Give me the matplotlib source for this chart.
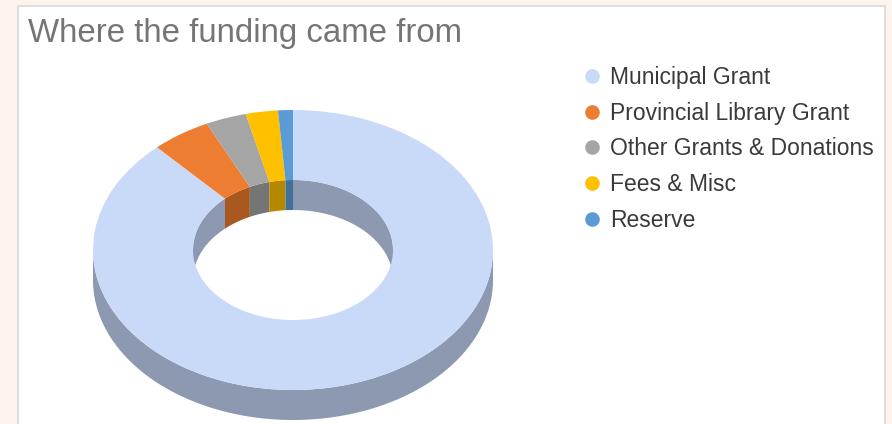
import numpy as np
import matplotlib.pyplot as plt
from matplotlib.lines import Line2D
from matplotlib.patches import Rectangle

plt.rcParams["font.family"] = ["Liberation Sans", "DejaVu Sans"]

labels = ["Municipal Grant", "Provincial Library Grant", "Other Grants & Donations", "Fees & Misc", "Reserve"]
shares = [88.1, 4.8, 3.3, 2.6, 1.2]
colors = ["#C9DAF8", "#ED7D31", "#A5A5A5", "#FFC000", "#5B9BD5"]
wall_colors = ["#8C99B0", "#A9591F", "#757575", "#B58800", "#41709A"]

W, H = 892, 424
fig = plt.figure(figsize=(W / 100, H / 100), dpi=100, facecolor="#FEF4EE")

# white card behind the chart
fig.patches.append(Rectangle((18 / W, -0.05), 867 / W, (H - 6) / H + 0.05, transform=fig.transFigure,
                             facecolor="white", edgecolor="#DEDEDE", linewidth=1.5, zorder=-1))

fig.text(28 / W, 1 - 42 / H, "Where the funding came from", fontsize=23.8, color="#757575")

# donut axes: x runs -1..1 over 400 px, y is squashed to 140 px per unit
ax = fig.add_axes([93 / W, 0, 400 / W, (H - 110) / H])
ax.pie(shares, colors=colors, startangle=90, counterclock=False, radius=1,
       wedgeprops=dict(width=0.5, linewidth=0))
ax.set_aspect("auto")
depth = 30 / 140
ax.set_xlim(-1, 1)
ax.set_ylim(1 - (H - 110) / 140, 1)
ax.axis("off")

# side walls, from the same slice angles as the pie
edges = 90 - np.cumsum([0] + shares) * 3.6
# inner wall only shows on the far half, outer wall on the near half
wall_spans = [(0.5, 0, 180), (0.5, -360, -180), (1.0, -180, 0)]
for i in range(len(shares)):
    for radius, start, stop in wall_spans:
        a0 = max(edges[i + 1], start)
        a1 = min(edges[i], stop)
        if a1 <= a0:
            continue
        t = np.radians(np.linspace(a0, a1, 200))
        x = radius * np.cos(t)
        y = radius * np.sin(t)
        ax.fill(np.r_[x, x[::-1]], np.r_[y, y[::-1] - depth], color=wall_colors[i],
                linewidth=0, zorder=0)

handles = [Line2D([], [], linestyle="", marker="o", markersize=10.5, markeredgewidth=0, color=c) for c in colors]
fig.legend(handles, labels, loc="upper left", bbox_to_anchor=(573.5 / W, 1 - 59 / H), frameon=False,
           fontsize=16.45, labelcolor="#3A3A3A", labelspacing=0.556, handlelength=1.0, handletextpad=0.31,
           borderpad=0.3, borderaxespad=0)

fig.savefig("out.png", dpi=100, facecolor=fig.get_facecolor())
